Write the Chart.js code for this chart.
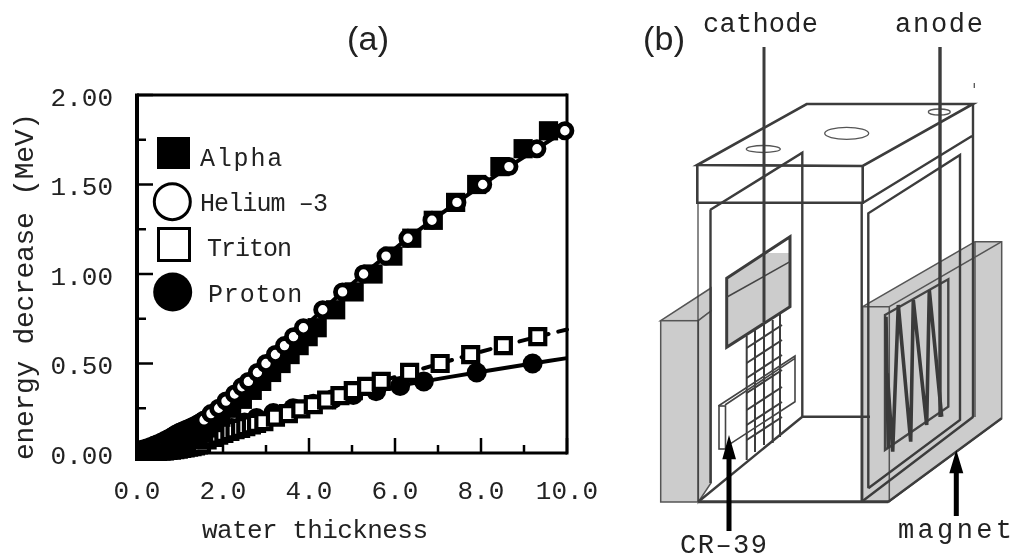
<!DOCTYPE html>
<html>
<head>
<meta charset="utf-8">
<title>Energy decrease in water</title>
<script src="https://cdn.jsdelivr.net/npm/chart.js@4/dist/chart.umd.min.js"></script>
<style>
  html, body { margin: 0; padding: 0; background: #fff; }
  #page { position: relative; width: 1014px; height: 554px; overflow: hidden; }
  #energyChart { position: absolute; left: 0; top: 0; }
  #apparatus { position: absolute; left: 0; top: 0; }
  #apparatus text { font-family: "Liberation Mono", monospace; font-size: 27px; fill: #222; }
  #apparatus .panel { font-family: "Liberation Sans", sans-serif; font-size: 34px; }
</style>
</head>
<body>
<div id="page">
  <canvas id="energyChart" width="736" height="554"></canvas>
  <svg id="apparatus" width="1014" height="554" viewBox="0 0 1014 554">
    <text class="panel" x="347" y="50" textLength="42" lengthAdjust="spacing">(a)</text>
    <text class="panel" x="643" y="50" textLength="42" lengthAdjust="spacing">(b)</text>
    <text x="202" y="538" textLength="226" lengthAdjust="spacing" style="font-size:26px">water thickness</text>
    <text transform="translate(33 460) rotate(-90)" textLength="347" lengthAdjust="spacing" style="font-size:28px">energy decrease (MeV)</text>
    <text x="703" y="32" textLength="115" lengthAdjust="spacing">cathode</text>
    <text x="895" y="32" textLength="88" lengthAdjust="spacing">anode</text>
    <text x="680" y="553" textLength="87" lengthAdjust="spacing">CR–39</text>
    <text x="898" y="538" textLength="114" lengthAdjust="spacing">magnet</text>

    <!-- magnets -->
    <g fill="#cccccc" stroke="#555" stroke-width="1.5">
      <polygon points="660.7,320.7 711,288 711,311 698.3,320.7"/>
      <polygon points="698.3,320.7 711,311 711,483 698.3,502"/>
      <rect x="660.7" y="320.7" width="37.6" height="181.3"/>
      <polygon points="862.7,306.7 975,241.7 1001.7,241.7 1001.7,418.3 888.3,502.3 862.7,502.3"/>
    </g>
    <g fill="none" stroke="#555" stroke-width="1.5">
      <path d="M889.3 306.7 L1001.7 241.7 M889.3 306.7 V502 M862.7 306.7 H889.3 M975 242 V417"/>
    </g>

    <!-- cell body -->
    <g fill="none" stroke="#3c3c3c" stroke-width="2.4">
      <path d="M697.3 165 L806.7 104 H973 L862.7 166 Z" stroke-width="2.6"/>
      <path d="M697.3 165 V202.7 H862.7 V166" stroke-width="2.6"/>
      <path d="M862.7 203 L972 136 M973 104 V417 M861.7 203 V502"/>
      <path d="M698 203 V502" stroke-width="1.2"/>
      <path d="M710 210 L802.3 152.7 V416.7 M710.5 210 V483"/>
      <path d="M868.3 488.3 V213.3 L960 155 V420 L868.3 488.3"/>
      <path d="M698.3 501.7 L802.3 416.7 H870 M861.7 501.7 L973.3 416.7 M888.3 501.7 L1001.7 418.3"/>
      <path d="M698.3 501.7 H888.3" stroke-width="3"/>
    </g>
    <g fill="none" stroke="#555" stroke-width="1.3">
      <ellipse cx="763.3" cy="149" rx="17" ry="3.5"/>
      <ellipse cx="846.7" cy="133.3" rx="22" ry="6"/>
      <ellipse cx="939.3" cy="112" rx="11" ry="3"/>
      <path d="M974.3 83 V88"/>
    </g>

    <!-- cathode plate and mesh -->
    <polygon points="726.7,278.3 764,253 790,253 790,306.7 726.7,347.3" fill="#cccccc"/>
    <path d="M726.7 278.3 L790 236.7 V306.7 L726.7 347.3 Z" fill="none" stroke="#3c3c3c" stroke-width="3"/>
    <path d="M727 297 L790 261.7" stroke="#444" stroke-width="1.5"/>
    <g stroke="#3c3c3c" stroke-width="2" fill="none">
      <path d="M746.7 336 V460 M755 330 V452 M764 323 V445 M772.7 320 V443 M780 313 V437"/>
      <path d="M746.7 348 L782 325 M746.7 363 L782 340 M746.7 378 L782 355 M746.7 393 L782 370 M746.7 410 L782 387 M746.7 425 L782 402 M746.7 440 L782 417"/>
    </g>
    <g fill="none" stroke="#444" stroke-width="1.6">
      <path d="M718.3 406 L795 356 V401.7 L726 446.7 M725 405 L795 358.3"/>
      <rect x="719" y="406" width="6.5" height="43" fill="#fff"/>
    </g>

    <!-- anode and leads -->
    <path d="M885 315 L948.3 279.3 V406.7 L885 450 Z" fill="none" stroke="#444" stroke-width="2.4"/>
    <polyline points="886,316.7 888.3,448.3 887.3,373.3 892.7,451.7 898.3,305 910.7,441.7 913.3,300 926.7,425 929.3,290 941.7,416.7" fill="none" stroke="#3a3a3a" stroke-width="3.6"/>
    <path d="M764 47 V322" stroke="#3c3c3c" stroke-width="3"/>
    <path d="M940 47 V417" stroke="#3c3c3c" stroke-width="3.4"/>

    <!-- arrows -->
    <g fill="#000" stroke="none">
      <polygon points="729,435 736,459.3 731.5,459.3 731.5,531 726.5,531 726.5,459.3 722.3,459.3"/>
      <polygon points="956.3,450 963.3,473.3 958.8,473.3 958.8,516 953.8,516 953.8,473.3 949.3,473.3"/>
    </g>
  </svg>
</div>
<script>
// values, x = water thickness, y = energy decrease (MeV)
const seriesNames = ['Alpha', 'Helium –3', 'Triton', 'Proton'];
const xTickLabels = ['0.0', '2.0', '4.0', '6.0', '8.0', '10.0'];
const yTickLabels = ['0.00', '0.50', '1.00', '1.50', '2.00'];

const alphaX = [0, 0.08, 0.16, 0.24, 0.32, 0.4, 0.48, 0.56, 0.64, 0.72, 0.8, 0.9, 1.0, 1.1, 1.23, 1.35, 1.5, 1.65, 1.8, 1.95, 2.2, 2.45, 2.68, 2.9, 3.13, 3.35, 3.56, 3.77, 3.98, 4.19, 4.62, 5.05, 5.49, 5.95, 6.39, 6.89, 7.41, 7.9, 8.44, 8.98, 9.57];
const alphaY = [0, 0.002, 0.007, 0.01, 0.014, 0.018, 0.023, 0.028, 0.033, 0.038, 0.043, 0.05, 0.056, 0.062, 0.075, 0.09, 0.11, 0.14, 0.17, 0.2, 0.25, 0.3, 0.35, 0.4, 0.45, 0.5, 0.55, 0.6, 0.65, 0.7, 0.8, 0.9, 1.0, 1.1, 1.2, 1.3, 1.4, 1.5, 1.6, 1.7, 1.8];

const helium3X = [0, 0.08, 0.16, 0.24, 0.32, 0.4, 0.48, 0.56, 0.64, 0.72, 0.8, 0.85, 0.9, 0.95, 1.0, 1.05, 1.1, 1.15, 1.2, 1.25, 1.3, 1.35, 1.4, 1.45, 1.5, 1.56, 1.72, 1.9, 2.07, 2.27, 2.44, 2.59, 2.8, 3.0, 3.22, 3.43, 3.64, 3.87, 4.32, 4.78, 5.27, 5.79, 6.3, 6.86, 7.44, 8.04, 8.65, 9.3, 9.95];
const helium3Y = [0.012, 0.018, 0.024, 0.03, 0.036, 0.044, 0.052, 0.06, 0.07, 0.08, 0.09, 0.097, 0.105, 0.111, 0.117, 0.122, 0.127, 0.132, 0.137, 0.142, 0.148, 0.154, 0.16, 0.166, 0.175, 0.185, 0.22, 0.25, 0.29, 0.33, 0.37, 0.4, 0.45, 0.5, 0.55, 0.6, 0.65, 0.7, 0.8, 0.9, 1.0, 1.1, 1.2, 1.3, 1.4, 1.5, 1.6, 1.7, 1.8];

const tritonX = [0, 0.08, 0.16, 0.24, 0.32, 0.4, 0.48, 0.56, 0.64, 0.72, 0.8, 0.88, 0.96, 1.04, 1.12, 1.2, 1.28, 1.36, 1.43, 1.5, 1.63, 1.76, 1.9, 2.02, 2.16, 2.28, 2.41, 2.53, 2.66, 2.78, 2.95, 3.22, 3.52, 3.81, 4.1, 4.41, 4.72, 5.03, 5.34, 5.68, 6.34, 7.05, 7.76, 8.52, 9.32, 10];
const tritonY = [0, 0.001, 0.002, 0.003, 0.004, 0.006, 0.008, 0.01, 0.012, 0.014, 0.016, 0.019, 0.022, 0.025, 0.028, 0.032, 0.036, 0.04, 0.045, 0.05, 0.073, 0.087, 0.1, 0.11, 0.12, 0.13, 0.138, 0.147, 0.157, 0.165, 0.175, 0.2, 0.22, 0.247, 0.27, 0.296, 0.32, 0.348, 0.372, 0.4, 0.45, 0.5, 0.55, 0.6, 0.65, 0.69];

const protonX = [0, 0.4, 0.8, 1.2, 1.5, 1.8, 2.2, 2.5, 2.78, 3.17, 3.63, 4.1, 4.55, 5.03, 5.56, 6.12, 6.67, 7.9, 9.2, 10];
const protonY = [0, 0.005, 0.015, 0.035, 0.06, 0.1, 0.14, 0.17, 0.195, 0.223, 0.25, 0.275, 0.3, 0.324, 0.345, 0.375, 0.4, 0.45, 0.5, 0.53];

const points = (xs, ys) => xs.map((x, i) => ({ x, y: ys[i] }));
const monoFont = '"Liberation Mono", monospace';
const markerClip = { left: 2, top: false, right: false, bottom: 8 };

const frameAndTicks = {
  id: 'frameAndTicks',
  beforeDatasetsDraw(chart) {
    const { ctx, chartArea: a, scales: { x, y } } = chart;
    ctx.save();
    ctx.strokeStyle = '#000';
    ctx.lineCap = 'butt';
    const line = (x1, y1, x2, y2, w) => {
      ctx.lineWidth = w;
      ctx.beginPath();
      ctx.moveTo(x1, y1);
      ctx.lineTo(x2, y2);
      ctx.stroke();
    };
    line(a.left, a.top - 1.5, a.left, a.bottom + 1.5, 4);
    line(a.left, a.top, a.right, a.top, 3);
    line(a.right, a.top - 1.5, a.right, a.bottom + 1.5, 3);
    line(a.left, a.bottom, a.right, a.bottom, 3);
    x.ticks.forEach(t => {
      const px = x.getPixelForValue(t.value);
      line(px, a.bottom, px, a.bottom - (t.value % 2 === 0 ? 15 : 8), 2.5);
    });
    y.ticks.forEach(t => {
      const py = y.getPixelForValue(t.value);
      line(a.left, py, a.left + (t.value % 0.5 === 0 ? 16 : 9), py, 2.5);
    });
    ctx.restore();
  }
};

// big markers inside the plot
const insetLegend = {
  id: 'insetLegend',
  afterDatasetsDraw(chart) {
    const { ctx } = chart;
    ctx.save();
    ctx.fillStyle = '#000';
    ctx.strokeStyle = '#000';
    ctx.fillRect(157, 137, 33, 32);
    ctx.lineWidth = 3;
    ctx.beginPath();
    ctx.arc(172.3, 201.7, 18, 0, Math.PI * 2);
    ctx.stroke();
    ctx.strokeRect(158.5, 228.5, 31, 32);
    ctx.beginPath();
    ctx.arc(172.7, 292, 19.5, 0, Math.PI * 2);
    ctx.fill();

    const slots = [[200, 166, 84], [200, 211, 127], [207, 256, 84], [208, 302, 95]];
    ctx.font = '25px ' + monoFont;
    ctx.fillStyle = '#222';
    ctx.textAlign = 'left';
    ctx.textBaseline = 'alphabetic';
    seriesNames.forEach((name, i) => {
      const [tx, ty, w] = slots[i];
      ctx.letterSpacing = '0px';
      const natural = ctx.measureText(name).width;
      ctx.letterSpacing = (w - natural) / name.length + 'px';
      ctx.fillText(name, tx, ty);
    });
    ctx.letterSpacing = '0px';
    ctx.restore();
  }
};

new Chart(document.getElementById('energyChart'), {
  type: 'scatter',
  data: {
    // first dataset ends up on top
    datasets: [
      {
        label: seriesNames[1],
        data: points(helium3X, helium3Y),
        showLine: true,
        borderColor: '#000',
        borderWidth: 4,
        pointStyle: 'circle',
        pointRadius: 7.1,
        pointBorderWidth: 4.8,
        pointBorderColor: '#000',
        pointBackgroundColor: '#fff',
        clip: markerClip
      },
      {
        label: seriesNames[0],
        data: points(alphaX, alphaY),
        showLine: false,
        pointStyle: 'rect',
        pointRadius: 13.6,
        pointBorderWidth: 0,
        pointBackgroundColor: '#000',
        clip: markerClip
      },
      {
        label: seriesNames[2],
        data: points(tritonX, tritonY),
        showLine: true,
        borderColor: '#000',
        borderWidth: 4,
        borderDash: [10, 10],
        borderCapStyle: 'round',
        pointStyle: 'rect',
        pointRadius: ctx => ctx.dataIndex === tritonX.length - 1 ? 0 : 10.6,
        pointBorderWidth: 4.2,
        pointBorderColor: '#000',
        pointBackgroundColor: '#fff',
        clip: markerClip
      },
      {
        label: seriesNames[3],
        data: points(protonX, protonY),
        showLine: true,
        tension: 0.2,
        borderColor: '#000',
        borderWidth: 4,
        pointStyle: 'circle',
        pointRadius: ctx => ctx.dataIndex === protonX.length - 1 ? 0 : 10,
        pointBorderWidth: 0,
        pointBackgroundColor: '#000',
        clip: markerClip
      }
    ]
  },
  options: {
    responsive: false,
    animation: false,
    layout: { padding: { left: 0, right: 169, top: 95, bottom: 0 } },
    plugins: {
      legend: { display: false },
      tooltip: { enabled: false },
      title: { display: false }
    },
    scales: {
      x: {
        min: 0,
        max: 10,
        afterFit(scale) { scale.height = 101; },
        grid: { display: false },
        border: { display: false },
        ticks: {
          stepSize: 1,
          autoSkip: false,
          maxRotation: 0,
          padding: 16,
          color: '#222',
          font: { family: monoFont, size: 26 },
          callback: v => v % 2 === 0 ? xTickLabels[v / 2] : ''
        }
      },
      y: {
        min: 0,
        max: 2,
        afterFit(scale) { scale.width = 137; },
        grid: { display: false },
        border: { display: false },
        ticks: {
          stepSize: 0.25,
          autoSkip: false,
          padding: 16,
          labelOffset: 4,
          color: '#222',
          font: { family: monoFont, size: 26 },
          callback: v => v % 0.5 === 0 ? yTickLabels[v / 0.5] : ''
        }
      }
    }
  },
  plugins: [frameAndTicks, insetLegend]
});
</script>
</body>
</html>
